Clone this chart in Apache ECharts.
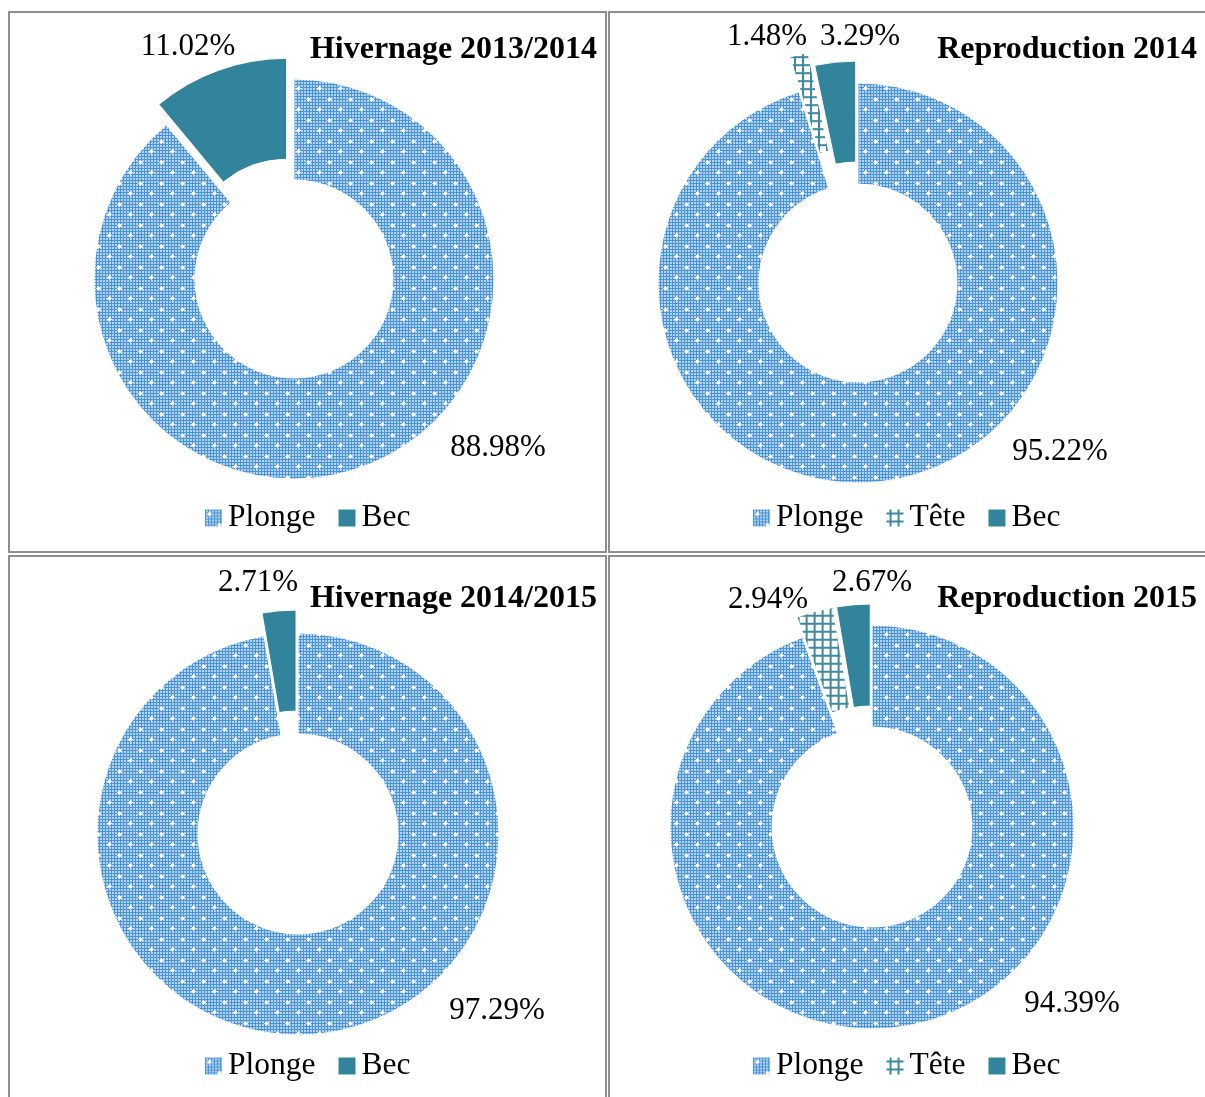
<!DOCTYPE html>
<html>
<head>
<meta charset="utf-8">
<title>Plonge / Tête / Bec</title>
<script src="https://cdn.jsdelivr.net/npm/echarts@6/dist/echarts.min.js"></script>
<style>
  html, body { margin: 0; padding: 0; background: #fff; }
  #chart { width: 1205px; height: 1097px; }
</style>
</head>
<body>
<div id="chart"></div>
<script>
// Categories and percentage shares for each season
const categories = ['Plonge', 'Tête', 'Bec'];
const titles = ['Hivernage 2013/2014', 'Reproduction 2014', 'Hivernage 2014/2015', 'Reproduction 2015'];
const hiv1314Names = ['Plonge', 'Bec'];
const hiv1314Values = [88.98, 11.02];
const rep2014Names = ['Plonge', 'Tête', 'Bec'];
const rep2014Values = [95.22, 1.48, 3.29];
const hiv1415Names = ['Plonge', 'Bec'];
const hiv1415Values = [97.29, 2.71];
const rep2015Names = ['Plonge', 'Tête', 'Bec'];
const rep2015Values = [94.39, 2.94, 2.67];

// ---- fill patterns ----
function plongePattern() {
  const c = document.createElement('canvas');
  c.width = 21; c.height = 21;
  const g = c.getContext('2d');
  g.fillStyle = '#4a92de';
  g.fillRect(0, 0, 21, 21);
  g.fillStyle = '#b3d5f6';
  for (let y = 0; y < 21; y += 3) {
    for (let x = 0; x < 21; x += 3) {
      g.fillRect(x + 1, y + 1, 2, 2);
    }
  }
  g.fillStyle = '#ffffff';
  [[4, 4], [14, 15]].forEach(function (p) {
    g.fillRect(p[0] - 1, p[1] - 1, 3, 3);
    g.globalAlpha = 0.8;
    g.fillRect(p[0] - 2, p[1], 5, 1);
    g.fillRect(p[0], p[1] - 2, 1, 5);
    g.globalAlpha = 1;
  });
  return { image: c, repeat: 'repeat' };
}

function tetePattern() {
  const c = document.createElement('canvas');
  c.width = 8; c.height = 8;
  const g = c.getContext('2d');
  g.fillStyle = '#ffffff';
  g.fillRect(0, 0, 8, 8);
  g.fillStyle = '#3a8aa2';
  g.fillRect(3, 0, 2, 8);
  g.fillRect(0, 3, 8, 2);
  return { image: c, repeat: 'repeat' };
}

const BEC = '#31849b';
const fills = {
  'Plonge': plongePattern(),
  'Tête': tetePattern(),
  'Bec': BEC
};

// explode distance for the small slices (0 = in place)
const explode = [
  { 'Plonge': 0, 'Bec': 22 },
  { 'Plonge': 0, 'Tête': 36, 'Bec': 22 },
  { 'Plonge': 0, 'Bec': 23 },
  { 'Plonge': 0, 'Tête': 21, 'Bec': 21 }
];

// layout of each panel
const panels = [
  { center: [294, 279], radius: [99, 200] },
  { center: [858, 283], radius: [99, 200] },
  { center: [298, 834], radius: [100, 201] },
  { center: [872, 827], radius: [100, 202] }
];

// where each percentage label sits
const labelSpots = [
  { 'Plonge': [498, 448], 'Bec': [188, 47] },
  { 'Plonge': [1060, 452], 'Tête': [767, 37], 'Bec': [860, 37] },
  { 'Plonge': [497, 1011], 'Bec': [258, 583] },
  { 'Plonge': [1072, 1004], 'Tête': [768, 600], 'Bec': [872, 583] }
];

const seriesData = [
  [hiv1314Names, hiv1314Values],
  [rep2014Names, rep2014Values],
  [hiv1415Names, hiv1415Values],
  [rep2015Names, rep2015Values]
];

const FONT = '"Liberation Serif", "Times New Roman", serif';
const HIDDEN = { color: 'rgba(0,0,0,0)', borderWidth: 0 };

function basePie(i) {
  return {
    type: 'pie',
    center: panels[i].center,
    radius: panels[i].radius,
    startAngle: 90,
    clockwise: true,
    avoidLabelOverlap: false,
    animation: false,
    silent: true,
    emphasis: { disabled: true, scale: false },
    labelLine: { show: false }
  };
}

const ringSeries = [];
const labelSeries = [];

seriesData.forEach(function (sd, i) {
  const names = sd[0], values = sd[1];
  // one ring layer per explode distance; slices of other layers are left invisible
  const offsets = [];
  names.forEach(function (n) {
    if (offsets.indexOf(explode[i][n]) < 0) offsets.push(explode[i][n]);
  });
  offsets.forEach(function (off) {
    const s = basePie(i);
    s.selectedMode = off > 0 ? 'multiple' : false;
    s.selectedOffset = off;
    s.label = { show: false };
    s.itemStyle = { borderColor: '#ffffff', borderWidth: 1 };
    s.select = { itemStyle: { borderColor: '#ffffff', borderWidth: 1 } };
    s.data = names.map(function (n, k) {
      const mine = explode[i][n] === off;
      const st = mine ? { color: fills[n], borderColor: '#ffffff', borderWidth: 1 } : HIDDEN;
      return {
        name: n,
        value: values[k],
        selected: mine && off > 0,
        itemStyle: st,
        select: { itemStyle: st }
      };
    });
    ringSeries.push(s);
  });

  // percentage labels, carried by an invisible ring
  const l = basePie(i);
  l.selectedMode = false;
  l.itemStyle = HIDDEN;
  l.label = {
    show: true,
    position: 'outside',
    formatter: '{c}%',
    fontFamily: FONT,
    fontSize: 31,
    color: '#000'
  };
  l.labelLayout = function (p) {
    const spot = labelSpots[i][names[p.dataIndex]];
    return { x: spot[0], y: spot[1], align: 'center', verticalAlign: 'middle' };
  };
  l.data = names.map(function (n, k) {
    return { name: n, value: values[k], itemStyle: HIDDEN };
  });
  labelSeries.push(l);
});

// panel frames (double rules between panels)
const frames = [
  [9, 12, 597, 540],
  [609, 12, 605, 540],
  [9, 556, 597, 550],
  [609, 556, 605, 550]
];

const titleSpots = [[597, 50], [1197, 50], [597, 599], [1197, 599]];

const graphics = frames.map(function (f) {
  return {
    type: 'rect',
    shape: { x: f[0], y: f[1], width: f[2], height: f[3] },
    style: { fill: 'none', stroke: '#8e8e8e', lineWidth: 2 },
    silent: true
  };
}).concat(titles.map(function (t, i) {
  return {
    type: 'text',
    x: titleSpots[i][0],
    y: titleSpots[i][1],
    silent: true,
    style: {
      text: t,
      fontFamily: FONT,
      fontWeight: 'bold',
      fontSize: 32,
      fill: '#000',
      align: 'right',
      verticalAlign: 'middle'
    }
  };
}));

const legendSpots = [[205, 502], [753, 502], [205, 1050], [753, 1050]];

const legends = seriesData.map(function (sd, i) {
  return {
    data: sd[0].map(function (n) {
      return { name: n, icon: 'rect', itemStyle: { color: fills[n], borderWidth: 0 } };
    }),
    left: legendSpots[i][0],
    top: legendSpots[i][1],
    orient: 'horizontal',
    icon: 'rect',
    itemWidth: 17,
    itemHeight: 17,
    itemGap: 23,
    selectedMode: false,
    padding: 0,
    textStyle: { fontFamily: FONT, fontSize: 31.5, color: '#000', padding: [0, 0, 0, 1] }
  };
});

const chart = echarts.init(document.getElementById('chart'), null, { renderer: 'canvas' });
chart.setOption({
  animation: false,
  backgroundColor: '#ffffff',
  legend: legends,
  graphic: graphics,
  series: ringSeries.concat(labelSeries)
});
</script>
</body>
</html>
